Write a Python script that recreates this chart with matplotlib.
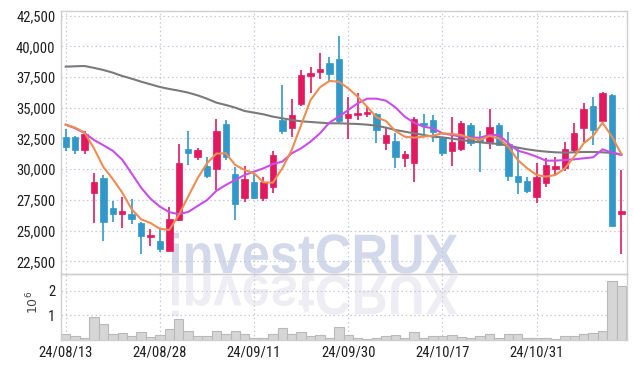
import matplotlib
matplotlib.use("Agg")
import matplotlib.pyplot as plt
import numpy as np
from matplotlib import font_manager as fm
from matplotlib.textpath import TextPath
from matplotlib.patches import PathPatch
from matplotlib.font_manager import FontProperties
from matplotlib.transforms import Affine2D
from matplotlib.ticker import FuncFormatter

dates = ["24/08/13", "24/08/14", "24/08/16", "24/08/19", "24/08/20", "24/08/21", "24/08/22", "24/08/23",
         "24/08/26", "24/08/27", "24/08/28", "24/08/29", "24/08/30", "24/09/02", "24/09/03", "24/09/04",
         "24/09/05", "24/09/06", "24/09/09", "24/09/10", "24/09/11", "24/09/12", "24/09/13", "24/09/19",
         "24/09/20", "24/09/23", "24/09/24", "24/09/25", "24/09/26", "24/09/27", "24/09/30", "24/10/02",
         "24/10/04", "24/10/07", "24/10/08", "24/10/10", "24/10/11", "24/10/14", "24/10/15", "24/10/16",
         "24/10/17", "24/10/18", "24/10/21", "24/10/22", "24/10/23", "24/10/24", "24/10/25", "24/10/28",
         "24/10/29", "24/10/30", "24/10/31", "24/11/01", "24/11/04", "24/11/05", "24/11/06", "24/11/07",
         "24/11/08", "24/11/11", "24/11/12", "24/11/13"]

opens = [32620, 32620, 31590, 28090, 29310, 26870, 26380, 26380, 25650, 24510,
         24150, 23370, 25870, 31650, 30970, 30240, 30050, 33680, 29610, 27680,
         28960, 27680, 28580, 34010, 33380, 35340, 37620, 37920, 38680, 38970,
         34170, 34410, 34470, 34470, 32110, 32300, 30940, 30530, 33740, 34010,
         32510, 31510, 31620, 33600, 32430, 32190, 33600, 32050, 29450, 29040,
         27770, 28910, 30050, 30070, 31570, 33330, 35150, 33950, 36040, 26380]
highs = [33250, 32700, 33140, 29660, 29500, 27410, 27760, 27600, 25700, 25100,
         25100, 26950, 32030, 33110, 31700, 30970, 34060, 34010, 30210, 30260,
         29660, 29340, 31480, 36860, 35690, 38080, 38300, 39440, 39110, 40850,
         35910, 36180, 35150, 34600, 33460, 32920, 31510, 34220, 34500, 34390,
         32650, 34220, 33950, 33790, 33110, 34900, 33740, 33060, 31790, 29340,
         30480, 30890, 31020, 32190, 33740, 35360, 35850, 36310, 36100, 29940]
lows = [31480, 31210, 31210, 25650, 24130, 25680, 25190, 25510, 23070, 23750,
        23290, 23370, 25800, 30320, 30750, 29310, 28310, 30750, 25870, 27360,
        27600, 27440, 28040, 32840, 32650, 35150, 36180, 37320, 37130, 33740,
        32460, 34010, 34220, 32110, 31560, 30070, 30150, 28930, 32650, 32190,
        31080, 30260, 31510, 31890, 29800, 31620, 31890, 29040, 27960, 28090,
        27220, 28580, 29500, 29860, 31290, 32240, 31970, 33900, 25400, 23100]
closes = [31840, 31590, 32890, 28960, 25730, 26380, 26600, 25920, 24590, 24670,
          23530, 25950, 30480, 31350, 31560, 29480, 33110, 30970, 27200, 29200,
          27680, 28960, 31160, 33140, 34390, 37670, 37860, 38160, 37750, 33950,
          34470, 34580, 34660, 33220, 32790, 30970, 31240, 34060, 33630, 33060,
          31290, 32220, 33740, 32110, 32240, 33410, 31970, 29450, 28990, 28250,
          29340, 30340, 30260, 31620, 32980, 34880, 33190, 36180, 25400, 26600]
volume_m = [0.23, 0.14, 0.08, 0.91, 0.64, 0.23, 0.27, 0.14, 0.31, 0.10,
            0.19, 0.42, 0.83, 0.35, 0.14, 0.14, 0.33, 0.23, 0.33, 0.23,
            0.08, 0.08, 0.23, 0.46, 0.23, 0.29, 0.14, 0.17, 0.08, 0.50,
            0.17, 0.08, 0.04, 0.08, 0.14, 0.19, 0.08, 0.29, 0.08, 0.13,
            0.13, 0.17, 0.12, 0.07, 0.14, 0.23, 0.08, 0.23, 0.23, 0.07,
            0.07, 0.07, 0.03, 0.13, 0.13, 0.23, 0.27, 0.33, 2.42, 2.20]
ma_short = [33628, 33383, 32976, 31700, 30180, 29200, 28100, 26750, 25920, 25620,
            25150, 25050, 26273, 27765, 29258, 30479, 31270, 31294, 30343, 29937,
            29665, 28932, 28905, 30072, 31565, 33600, 35636, 36667, 37183, 37129,
            36586, 35907, 35093, 34225, 33926, 33112, 32651, 32569, 32650, 32732,
            32922, 32867, 32786, 32515, 32379, 32705, 32515, 31837, 30751, 30072,
            29530, 29394, 29530, 30072, 31022, 32108, 32705, 33791, 32650, 31239]
ma_mid = [33628, 33329, 32950, 32379, 31950, 31500, 30780, 29650, 28500, 27600,
          26950, 26500, 26340, 26517, 27006, 27480, 28240, 28715, 29123, 29530,
          29801, 30072, 30425, 30615, 31294, 31701, 32244, 32922, 33791, 34279,
          34822, 35365, 35744, 35744, 35582, 35039, 34279, 33780, 33465, 33329,
          32922, 32786, 32650, 32569, 32569, 32786, 32786, 32108, 31511, 31294,
          31022, 30697, 30697, 30751, 30805, 30887, 30968, 31619, 31348, 31158]
ma_long = [38350, 38380, 38404, 38250, 38079, 37861, 37590, 37373, 37129, 36912,
           36695, 36532, 36396, 36233, 36016, 35740, 35420, 35229, 35012, 34740,
           34605, 34469, 34279, 34143, 34008, 33899, 33845, 33791, 33736, 33736,
           33710, 33682, 33628, 33546, 33383, 33193, 33058, 32922, 32786, 32650,
           32596, 32488, 32379, 32271, 32189, 32108, 32054, 31918, 31755, 31619,
           31511, 31430, 31375, 31348, 31375, 31402, 31402, 31375, 31321, 31212]
price_ticks = [22500, 25000, 27500, 30000, 32500, 35000, 37500, 40000, 42500]
volume_ticks = [1, 2]

UP = "#e2195f"
DOWN = "#3198c9"
GRID = "#c5c9dc"
SPINE = "#cfcfcf"

# pick a narrow font for tick labels if one is installed
entries = fm.fontManager.ttflist
available = {f.name for f in entries}
dejavu_cond = any(f.name == "DejaVu Sans" and "condensed" in str(f.stretch).lower() for f in entries)
if "Liberation Sans Narrow" in available:
    TICKPROP = dict(family=["Liberation Sans Narrow", "DejaVu Sans"], size=10.5)
elif "Roboto Condensed" in available:
    TICKPROP = dict(family=["Roboto Condensed", "DejaVu Sans"], size=10.5)
elif dejavu_cond:
    TICKPROP = dict(family=["DejaVu Sans"], stretch="condensed", size=9.8)
else:
    TICKPROP = dict(family=["Liberation Sans", "DejaVu Sans"], size=9.6)

W, H = 634, 368
fig = plt.figure(figsize=(W / 100, H / 100), dpi=100)
fig.patch.set_facecolor("white")

L, R = 61, 627
ax = fig.add_axes([L / W, 1 - 274 / H, (R - L) / W, (274 - 11) / H])
axv = fig.add_axes([L / W, 1 - 339.5 / H, (R - L) / W, (339.5 - 274) / H], sharex=ax)
for a in (ax, axv):
    a.set_facecolor("none")
    a.set_axisbelow(True)
    for s in a.spines.values():
        s.set_color(SPINE)
        s.set_linewidth(1)

# watermark and its reflection
fp = FontProperties(family=["Liberation Sans", "DejaVu Sans"], weight="bold")
tp = TextPath((0, 0), "investCRUX", size=1, prop=fp)
ext = tp.get_extents()
sx = 286 / ext.width
sy = 40 / 0.72
tr_main = Affine2D().translate(-ext.x0, 0).scale(sx, sy).translate(172, H - 273)
tr_ref = Affine2D().translate(-ext.x0, 0).scale(sx, -sy).translate(172, H - 276)
fig.add_artist(PathPatch(tp, transform=tr_main, facecolor="#d3d9ea", edgecolor="none", zorder=-1))
fig.add_artist(PathPatch(tp, transform=tr_ref, facecolor="#ededf3", edgecolor="none", zorder=-1))

x = np.arange(len(dates))
o = np.array(opens); c = np.array(closes)
hi = np.array(highs); lo = np.array(lows)
up = c >= o
cols = np.where(up, UP, DOWN)
bottoms = np.minimum(o, c)
heights = np.maximum(np.abs(c - o), 70)

ax.vlines(x, lo, hi, colors=cols, linewidth=1.2, zorder=2)
ax.bar(x, heights, bottom=bottoms, width=0.68, color=cols, edgecolor=cols, linewidth=0.5, zorder=2.1)

ax.plot(x, ma_long, color="#7a7a7a", lw=1.5, zorder=3)
ax.plot(x, ma_mid, color="#c94ee8", lw=1.5, zorder=3.1)
ax.plot(x, ma_short, color="#ee8c52", lw=1.5, zorder=3.2)

ax.set_ylim(21466, 42882)
ax.set_xlim(-0.5, 59.6)
ax.set_yticks(price_ticks)
ax.yaxis.set_major_formatter(FuncFormatter(lambda v, p: f"{int(v):,}"))
ax.grid(True, color=GRID, linestyle=(0, (1.2, 2.2)), linewidth=0.9)
ax.tick_params(axis="both", length=0, labelbottom=False, pad=4, labelcolor="#1e1e1e")

axv.bar(x, volume_m, width=1.0, color="#d6d6d6", edgecolor="#b9b9b9", linewidth=0.8, zorder=2)
axv.set_ylim(0, 2.7)
axv.set_yticks(volume_ticks)
axv.yaxis.set_major_formatter(FuncFormatter(lambda v, p: f"{int(v)}"))
tick_idx = list(range(0, len(dates), 10))
axv.set_xticks(tick_idx)
axv.set_xticklabels([dates[i] for i in tick_idx])
axv.grid(True, color=GRID, linestyle=(0, (1.2, 2.2)), linewidth=0.9)
axv.tick_params(axis="both", length=0, pad=4, labelcolor="#1e1e1e")

for a in (ax, axv):
    for lab in a.get_xticklabels() + a.get_yticklabels():
        lab.set_family(TICKPROP["family"])
        lab.set_fontsize(TICKPROP["size"])
        if "stretch" in TICKPROP:
            lab.set_fontstretch(TICKPROP["stretch"])

fig.text(33 / W, 1 - 302 / H, r"$10^6$", rotation=90, ha="center", va="center",
         fontsize=9, color="#444444")

fig.savefig("out.png", dpi=100)
